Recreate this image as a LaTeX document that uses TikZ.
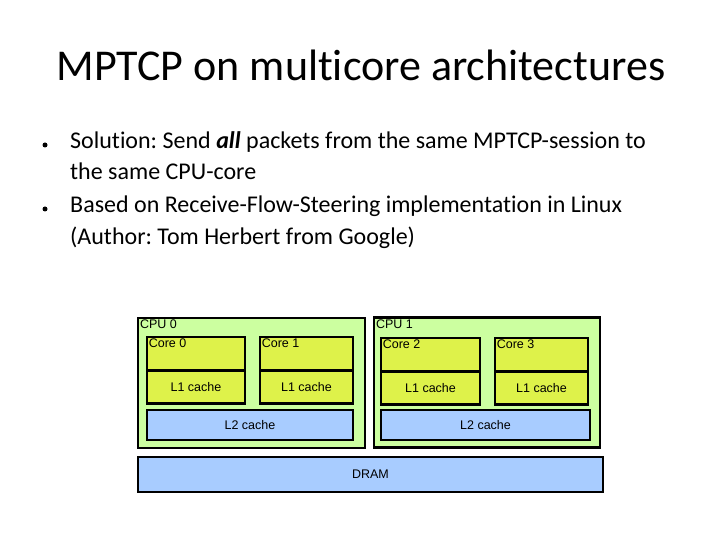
\documentclass[tikz,border=0pt]{standalone}
\usepackage{fontspec}
\setmainfont{Carlito}[Ligatures=NoCommon]
\newfontfamily\boxfont{Liberation Sans}
\usepackage{tikz}
\usetikzlibrary{positioning}
\frenchspacing

\definecolor{cpugreen}{RGB}{204,255,160}
\definecolor{coreyellow}{RGB}{222,242,74}
\definecolor{cacheblue}{RGB}{168,204,255}

\begin{document}
\begin{tikzpicture}[x=1pt, y=-1pt,
        box/.style = {draw, line width=2.8pt, inner sep=0pt, font=\boxfont\fontsize{12.5}{14}\selectfont},
        cpu/.style = {box, line width=2.4pt, fill=cpugreen, minimum height=130pt},
        core/.style = {box, fill=coreyellow, minimum height=33.4pt},
        cache/.style = {box, fill=cacheblue, minimum height=30pt},
        tag/.style = {anchor=north west, inner sep=3pt, font=\boxfont\fontsize{12.5}{14}\selectfont},
        point/.style = {anchor=base west, inner sep=0pt, font=\fontsize{24}{30}\selectfont}]
    \useasboundingbox (0,0) rectangle (720,540);

    \node[anchor=base, font=\fontsize{44}{52}\selectfont] (title) at (361,81) {MPTCP on multicore architectures};

    \fill (45,145) circle (2.5pt);
    \node[point] (sol) at (70,149) {Solution: Send \textbf{\textit{all}} packets from the same MPTCP-session to};
    \node[point] (sol2) at (70,180) {the same CPU-core};
    \fill (45,209) circle (2.5pt);
    \node[point] (rfs) at (70,213) {Based on Receive-Flow-Steering implementation in Linux};
    \node[point] (rfs2) at (70,244) {(Author: Tom Herbert from Google)};

    % CPU 0
    \node[cpu, minimum width=227pt] (cpu0) at (251.5,383) {};
    \node[tag] at (cpu0.north west) {CPU 0};
    \node[core, minimum width=98pt, label={[tag, label distance=0pt]north west:Core 0}] (core0) at (196,353.7) {};
    \node[core, minimum width=98pt] (l1a) [below=-2.8pt of core0] {L1 cache};
    \node[core, minimum width=93pt, label={[tag, label distance=0pt]north west:Core 1}] (core1) at (306.5,353.7) {};
    \node[core, minimum width=93pt] (l1b) [below=-2.8pt of core1] {L1 cache};
    \node[cache, minimum width=206pt] (l2a) at (250,425) {L2 cache};

    % CPU 1
    \node[cpu, minimum width=226pt] (cpu1) at (487,382.5) {};
    \node[tag] at (cpu1.north west) {CPU 1};
    \node[core, minimum width=99pt, label={[tag, label distance=0pt]north west:Core 2}] (core2) at (430.5,354.7) {};
    \node[core, minimum width=99pt] (l1c) [below=-2.8pt of core2] {L1 cache};
    \node[core, minimum width=93pt, label={[tag, label distance=0pt]north west:Core 3}] (core3) at (541.5,354.7) {};
    \node[core, minimum width=93pt] (l1d) [below=-2.8pt of core3] {L1 cache};
    \node[cache, minimum width=209pt] (l2b) at (485.5,425) {L2 cache};

    \node[cache, minimum width=465pt, minimum height=35pt] (dram) at (370.5,474.5) {DRAM};
\end{tikzpicture}
\end{document}
